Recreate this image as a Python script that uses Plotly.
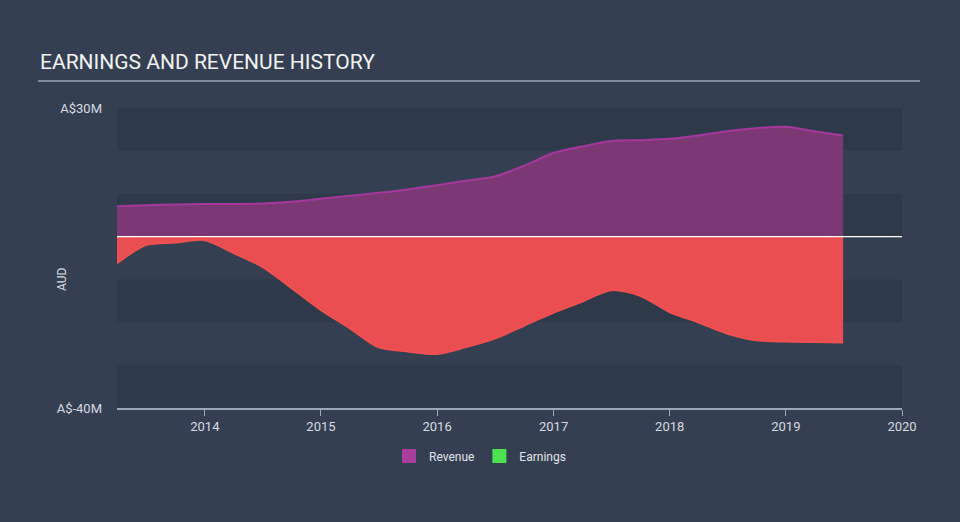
import plotly.graph_objects as go

dates = ["2013-03-31", "2013-06-30", "2013-09-30", "2013-12-31",
         "2014-03-31", "2014-06-30", "2014-09-30", "2014-12-31",
         "2015-03-31", "2015-06-30", "2015-09-30", "2015-12-31",
         "2016-03-31", "2016-06-30", "2016-09-30", "2016-12-31",
         "2017-03-31", "2017-06-30", "2017-09-30", "2017-12-31",
         "2018-03-31", "2018-06-30", "2018-09-30", "2018-12-31",
         "2019-03-31", "2019-06-30"]
revenue = [7.1, 7.3, 7.5, 7.6, 7.6, 7.7, 8.1, 8.8, 9.5, 10.2, 11.0, 12.0,
           13.0, 14.0, 16.5, 19.5, 21.0, 22.3, 22.5, 22.8, 23.6, 24.6, 25.3, 25.6,
           24.6, 23.6]
earnings = [-6.2, -2.0, -1.4, -0.8, -3.8, -7.0, -12.0, -17.1, -21.3, -25.8, -26.8, -27.4,
            -25.8, -23.8, -20.8, -17.8, -15.2, -12.5, -13.8, -17.6, -20.0, -22.6, -24.2, -24.5,
            -24.6, -24.7]
ytick_vals = [-40, 30]
ytick_text = ["A$-40M", "A$30M"]
xtick_vals = ["2014-01-01", "2015-01-01", "2016-01-01", "2017-01-01", "2018-01-01", "2019-01-01", "2020-01-01"]
xtick_text = ["2014", "2015", "2016", "2017", "2018", "2019", "2020"]

fig = go.Figure()
fig.add_trace(go.Scatter(x=dates, y=revenue, name="Revenue", mode="lines",
                         line=dict(color="#a6379f", width=2, shape="spline", smoothing=0.8),
                         fill="tozeroy", fillcolor="rgba(123,56,117,1)", showlegend=False))
fig.add_trace(go.Scatter(x=dates, y=earnings, name="Earnings", mode="lines",
                         line=dict(color="#f05050", width=2, shape="spline", smoothing=0.8),
                         fill="tozeroy", fillcolor="rgba(234,78,80,1)", showlegend=False))
# legend entries
fig.add_trace(go.Scatter(x=[None], y=[None], name="Revenue", mode="markers",
                         marker=dict(symbol="square", size=14, color="#a83e9e")))
fig.add_trace(go.Scatter(x=[None], y=[None], name="Earnings", mode="markers",
                         marker=dict(symbol="square", size=14, color="#4fe04f")))

shapes = []
for lo, hi in [(20, 30), (0, 10), (-20, -10), (-40, -30)]:
    shapes.append(dict(type="rect", xref="paper", yref="y", x0=0, x1=1, y0=lo, y1=hi,
                       fillcolor="#2e3a4a", line=dict(width=0), layer="below"))
shapes.append(dict(type="line", xref="paper", yref="y", x0=0, x1=1, y0=0, y1=0,
                   line=dict(color="#ffffff", width=1.2)))
shapes.append(dict(type="line", xref="paper", yref="paper", x0=-0.1006, x1=1.0229,
                   y0=1.09, y1=1.09, line=dict(color="#9aa6b4", width=1.5)))

fig.update_layout(
    width=960, height=522,
    paper_bgcolor="#344051", plot_bgcolor="#344051",
    margin=dict(l=117, r=58, t=108, b=114, autoexpand=False),
    font=dict(family="Roboto, Open Sans, sans-serif", color="#d6dae0", size=12),
    shapes=shapes,
    showlegend=True,
    legend=dict(orientation="h", x=0.4624, xanchor="center",
                y=-0.16, yanchor="middle",
                font=dict(size=12, color="#e0e3e8"), bgcolor="rgba(0,0,0,0)"),
    annotations=[
        dict(text="EARNINGS AND REVENUE HISTORY", xref="paper", yref="paper",
             x=-0.1006, y=1.105, xanchor="left", yanchor="bottom", showarrow=False,
             font=dict(size=21, color="#f2f2f2")),
        dict(text="AUD", xref="paper", yref="paper", x=-0.070, y=0.43, textangle=-90,
             xanchor="center", yanchor="middle", showarrow=False,
             font=dict(size=12, color="#d6dae0")),
    ],
    xaxis=dict(type="date", range=["2013-03-31", "2020-01-01"], tickvals=xtick_vals,
               ticktext=xtick_text, showgrid=False, zeroline=False, showline=True,
               linecolor="#9aa8b8", linewidth=1.5, ticks="outside", ticklen=6,
               tickcolor="#9aa8b8", tickfont=dict(size=13, color="#d6dae0")),
    yaxis=dict(range=[-40, 30], tickvals=ytick_vals, ticktext=ytick_text, showgrid=False,
               zeroline=False, showline=False, ticks="", ticklabelstandoff=14,
               tickfont=dict(size=13, color="#d6dae0")),
)
fig.write_html("out.html", config={"displayModeBar": False},
               post_script="document.body.style.margin='0';document.body.style.background='#344051';")
